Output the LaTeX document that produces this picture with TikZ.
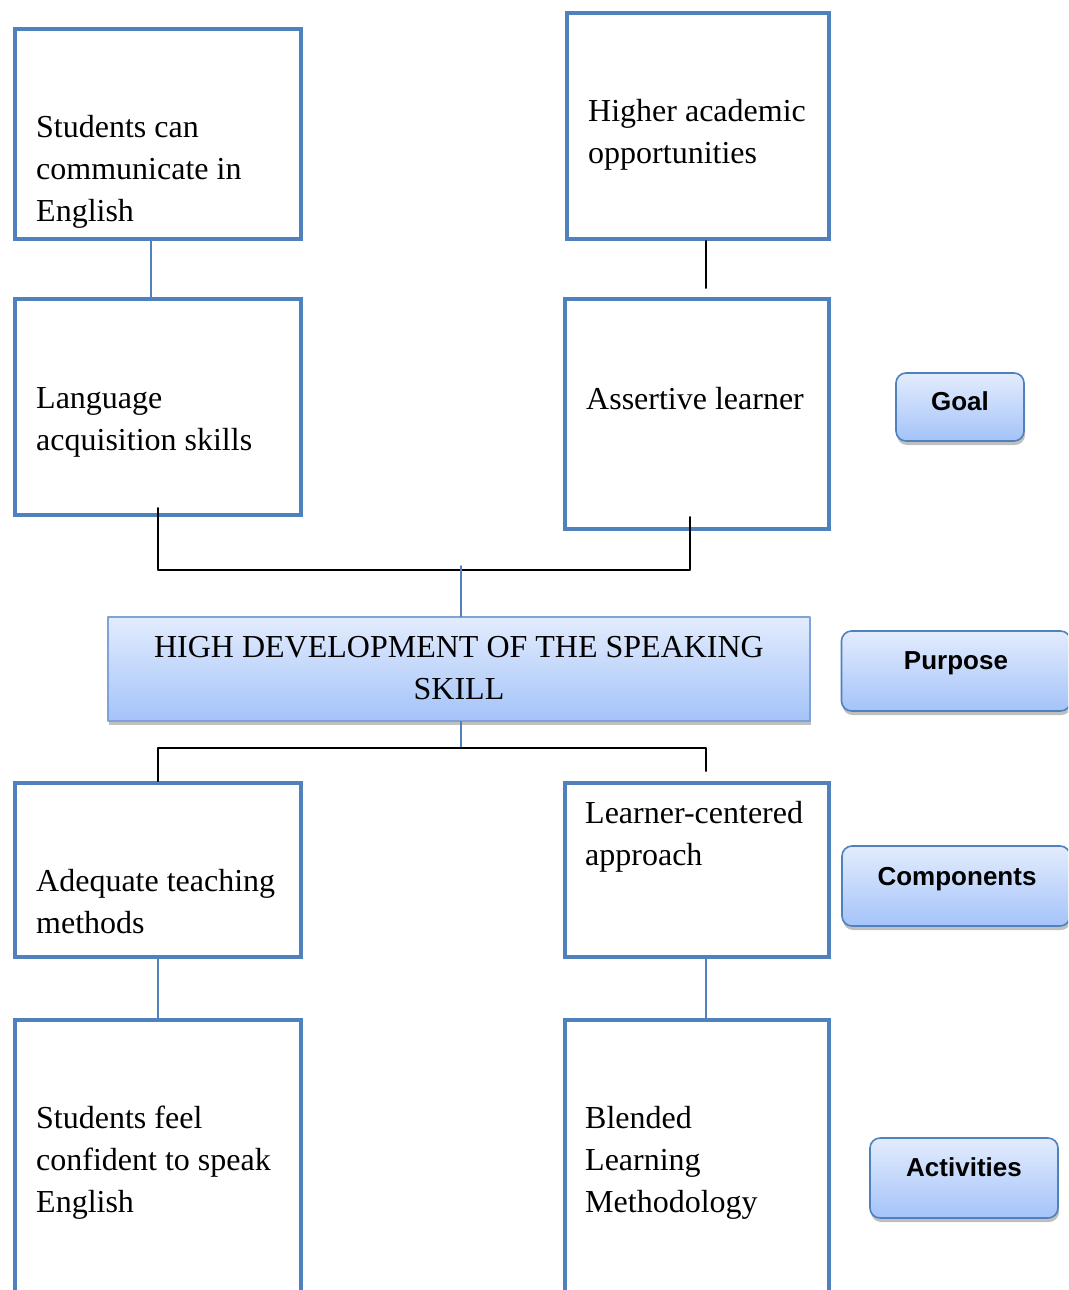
\documentclass[tikz,border=0pt]{standalone}
\usepackage{fontspec}
\setmainfont{Liberation Serif}
\newfontfamily\tagfont{Liberation Sans}
\usetikzlibrary{calc,shadows}

\definecolor{boxblue}{HTML}{4F81BD}
\definecolor{gradtop}{HTML}{E3ECFD}
\definecolor{gradbot}{HTML}{A4C3F9}
\definecolor{coreedge}{HTML}{7FA3D8}

\begin{document}
\begin{tikzpicture}[x=1pt, y=-1pt, line cap=round, line join=round,
  box/.style={draw=boxblue, line width=3.8pt, line join=miter, minimum width=286pt},
  txt/.style={anchor=west, align=left, inner sep=0pt, font=\fontsize{32}{42}\selectfont},
  tagbox/.style={draw=boxblue, line width=1.6pt, rounded corners=10pt,
    top color=gradtop, bottom color=gradbot,
    drop shadow={shadow xshift=1pt, shadow yshift=-4pt, opacity=0.5}},
  bluelink/.style={draw=boxblue, line width=1.6pt},
  blacklink/.style={draw=black, line width=1.6pt}]

  % ===== 枠 =====
  \useasboundingbox (0,0) rectangle (1068,1290);
  \clip (0,0) rectangle (1068,1290);

  % ===== 左列 =====
  \node[box, minimum height=210pt] (stuComm) at (158,134) {};
  \node[box, minimum height=216pt] (langAcq) at (158,407) {};
  \node[box, minimum height=174pt] (adequate) at (158,870) {};
  \node[box, minimum height=280pt] (confident) at (158,1160) {};

  % ===== 右列 =====
  \node[box, minimum width=262pt, minimum height=226pt] (higher) at (698,126) {};
  \node[box, minimum width=264pt, minimum height=230pt] (assert) at (697,414) {};
  \node[box, minimum width=264pt, minimum height=174pt] (learner) at (697,870) {};
  \node[box, minimum width=264pt, minimum height=280pt] (blended) at (697,1160) {};

  % ===== 文字 =====
  \node[txt] (stuCommTxt) at (36,172) {Students can\\communicate in\\English};
  \node[txt] (langAcqTxt) at (36,422) {Language\\acquisition skills};
  \node[txt] (adequateTxt) at (36,902) {Adequate teaching\\methods};
  \node[txt] (confidentTxt) at (36,1163) {Students feel\\confident to speak\\English};
  \node[txt] (higherTxt) at (588,135) {Higher academic\\opportunities};
  \node[txt] (assertTxt) at (586,399) {Assertive learner};
  \node[txt] (learnerTxt) at (585,837) {Learner-centered\\approach};
  \node[txt] (blendedTxt) at (585,1163) {Blended\\Learning\\Methodology};

  % ===== 中央 =====
  \node[draw=coreedge, line width=1.2pt, top color=gradtop, bottom color=gradbot,
    minimum width=702pt, minimum height=104pt, align=center,
    font=\fontsize{32}{42}\selectfont,
    drop shadow={shadow xshift=1pt, shadow yshift=-4pt, opacity=0.5}]
    (core) at (459,669) {\raisebox{3pt}{HIGH DEVELOPMENT OF THE SPEAKING}\\\raisebox{3pt}{SKILL}};

  % ===== 見出し =====
  \node[tagbox, minimum width=128pt, minimum height=68pt,
    label={[yshift=6pt, font=\tagfont\bfseries\fontsize{26}{30}\selectfont]center:Goal}]
    (goal) at (960,407) {};
  \node[tagbox, minimum width=229pt, minimum height=80pt,
    label={[yshift=8pt, font=\tagfont\bfseries\fontsize{26}{30}\selectfont]center:Purpose}]
    (purpose) at (956,671) {};
  \node[tagbox, minimum width=228pt, minimum height=80pt,
    label={[yshift=7pt, xshift=1pt, font=\tagfont\bfseries\fontsize{26}{30}\selectfont]center:Components}]
    (components) at (956,886) {};
  \node[tagbox, minimum width=188pt, minimum height=80pt,
    label={[yshift=11pt, font=\tagfont\bfseries\fontsize{26}{30}\selectfont]center:Activities}]
    (activities) at (964,1178) {};

  % ===== 結線 =====
  \coordinate (topJoin) at (461,570);
  \coordinate (botJoin) at (461,748);

  \draw[bluelink] ([xshift=-7pt]stuComm.south) -- ([xshift=-7pt]langAcq.north);
  \draw[blacklink] ([xshift=8pt]higher.south) -- ([xshift=9pt, yshift=9pt]assert.north);

  \draw[blacklink] ([yshift=9pt]langAcq.south) |- (topJoin)
    -| ([xshift=-7pt, yshift=14pt]assert.south);
  \draw[bluelink] ([yshift=4pt]topJoin) -- ([xshift=2pt]core.north);

  \draw[bluelink] ([xshift=2pt]core.south) -- (botJoin);
  \draw[blacklink] (adequate.north) |- (botJoin)
    -| ([xshift=9pt, yshift=10pt]learner.north);

  \draw[bluelink] (adequate.south) -- (confident.north);
  \draw[bluelink] ([xshift=9pt]learner.south) -- ([xshift=9pt]blended.north);

\end{tikzpicture}
\end{document}
